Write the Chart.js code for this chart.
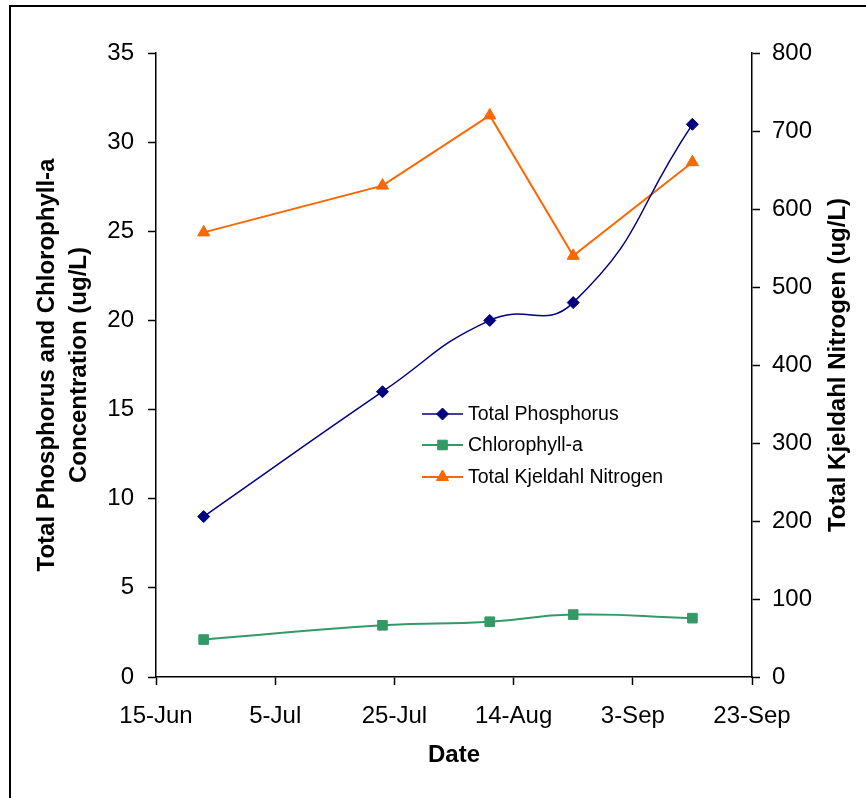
<!DOCTYPE html>
<html>
<head>
<meta charset="utf-8">
<script src="https://cdn.jsdelivr.net/npm/chart.js@4.4.1/dist/chart.umd.min.js"></script>
<style>
  html, body { margin: 0; padding: 0; background: #fff; }
  #wrap { width: 866px; height: 798px; }
</style>
</head>
<body>
<div id="wrap"><canvas id="chart" width="866" height="798"></canvas></div>
<script>
// sample dates (month-day) and measured values
const sampleDates = ['06-23', '07-23', '08-10', '08-24', '09-13'];
const totalPhosphorus = [9, 16, 20, 21, 31];
const chlorophyllA = [2.1, 2.9, 3.1, 3.5, 3.3];
const kjeldahlNitrogen = [570, 630, 720, 540, 660];
const dateTickLabels = ['15-Jun', '5-Jul', '25-Jul', '14-Aug', '3-Sep', '23-Sep'];

const FONT = '"Liberation Sans", Arial, sans-serif';
const startDay = Date.UTC(2000, 5, 15);
const dayOf = s => {
    const [m, d] = s.split('-').map(Number);
    return (Date.UTC(2000, m - 1, d) - startDay) / 86400000;
};
const days = sampleDates.map(dayOf);
const toPoints = vals => vals.map((v, i) => ({ x: days[i], y: v }));

const decorations = {
    id: 'decorations',
    afterDraw: (chart) => {
        const ctx = chart.ctx;
        const area = chart.chartArea;
        const midY = (area.top + area.bottom) / 2;
        ctx.save();

        // outer frame
        ctx.strokeStyle = '#000';
        ctx.lineWidth = 2;
        ctx.strokeRect(10, 6, 900, 900);

        // axis titles
        ctx.fillStyle = '#000';
        ctx.font = 'bold 24px ' + FONT;
        ctx.textAlign = 'center';
        ctx.textBaseline = 'middle';
        ctx.fillText('Date', (area.left + area.right) / 2, 755);

        const vertical = (text, x) => {
            ctx.save();
            ctx.translate(x, midY);
            ctx.rotate(-Math.PI / 2);
            ctx.fillText(text, 0, 0);
            ctx.restore();
        };
        vertical('Total Phosphorus and Chlorophyll-a', 47);
        vertical('Concentration (ug/L)', 79);
        vertical('Total Kjeldahl Nitrogen (ug/L)', 838);

        // legend inside plot
        ctx.font = '19.5px ' + FONT;
        ctx.textAlign = 'left';
        const rows = [414, 445, 477];
        chart.data.datasets.forEach((ds, i) => {
            const y = rows[i];
            ctx.strokeStyle = ds.borderColor;
            ctx.lineWidth = ds.borderWidth;
            ctx.beginPath();
            ctx.moveTo(422, y);
            ctx.lineTo(463, y);
            ctx.stroke();
            ctx.fillStyle = ds.backgroundColor;
            ctx.strokeStyle = ds.borderColor;
            ctx.lineWidth = 1;
            Chart.helpers.drawPoint(ctx, {
                pointStyle: ds.pointStyle,
                radius: ds.pointRadius,
                rotation: 0,
                borderWidth: 1
            }, 442.5, y);
            ctx.fillStyle = '#000';
            ctx.fillText(ds.label, 468, y + 1);
        });
        ctx.restore();
    }
};

const axisFont = { family: FONT, size: 24 };

new Chart(document.getElementById('chart').getContext('2d'), {
    type: 'line',
    data: {
        datasets: [
            {
                label: 'Total Phosphorus',
                data: toPoints(totalPhosphorus),
                yAxisID: 'y',
                borderColor: '#000080',
                backgroundColor: '#000080',
                borderWidth: 1.5,
                pointStyle: 'rectRot',
                pointRadius: 6,
                pointBorderWidth: 1,
                tension: 0.5
            },
            {
                label: 'Chlorophyll-a',
                data: toPoints(chlorophyllA),
                yAxisID: 'y',
                borderColor: '#339966',
                backgroundColor: '#339966',
                borderWidth: 2,
                pointStyle: 'rect',
                pointRadius: 6.8,
                pointBorderWidth: 1,
                tension: 0.5
            },
            {
                label: 'Total Kjeldahl Nitrogen',
                data: toPoints(kjeldahlNitrogen),
                yAxisID: 'y1',
                borderColor: '#FF6600',
                backgroundColor: '#FF6600',
                borderWidth: 2,
                pointStyle: 'triangle',
                pointRadius: 7,
                pointBorderWidth: 1,
                tension: 0
            }
        ]
    },
    options: {
        responsive: false,
        animation: false,
        layout: { padding: { top: 53 } },
        plugins: {
            legend: { display: false },
            tooltip: { enabled: false }
        },
        scales: {
            x: {
                type: 'linear',
                position: 'bottom',
                min: 0,
                max: 100,
                afterFit: (scale) => { scale.height = 121; },
                border: { color: '#000', width: 1.5 },
                grid: { drawOnChartArea: false, tickLength: 8, tickColor: '#000', tickWidth: 1.5 },
                ticks: {
                    stepSize: 20,
                    maxRotation: 0,
                    padding: 17,
                    color: '#000',
                    font: axisFont,
                    callback: (v) => dateTickLabels[Math.round(v / 20)]
                }
            },
            y: {
                position: 'left',
                min: 0,
                max: 35,
                afterFit: (scale) => { scale.width = 156; },
                border: { color: '#000', width: 1.5 },
                grid: { drawOnChartArea: false, tickLength: 8, tickColor: '#000', tickWidth: 1.5 },
                ticks: { stepSize: 5, padding: 14, color: '#000', font: axisFont }
            },
            y1: {
                position: 'right',
                min: 0,
                max: 800,
                afterFit: (scale) => { scale.width = 114; },
                border: { color: '#000', width: 1.5 },
                grid: { drawOnChartArea: false, tickLength: 8, tickColor: '#000', tickWidth: 1.5 },
                ticks: { stepSize: 100, padding: 12, color: '#000', font: axisFont }
            }
        }
    },
    plugins: [decorations]
});
</script>
</body>
</html>
